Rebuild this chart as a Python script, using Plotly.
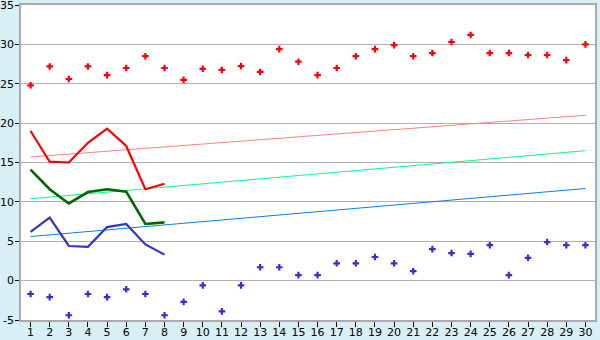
import plotly.graph_objects as go

days = list(range(1, 31))
high_pts = [24.8, 27.2, 25.6, 27.2, 26.1, 27.0, 28.5, 27.0, 25.5, 26.9,
            26.75, 27.25, 26.5, 29.4, 27.8, 26.1, 27.0, 28.5, 29.4, 29.9,
            28.5, 28.9, 30.3, 31.2, 28.9, 28.9, 28.65, 28.65, 28.0, 30.0]
low_pts = [-1.7, -2.1, -4.4, -1.7, -2.1, -1.1, -1.7, -4.4, -2.7, -0.6,
           -3.9, -0.6, 1.7, 1.7, 0.7, 0.7, 2.2, 2.2, 3.0, 2.2,
           1.2, 4.0, 3.5, 3.4, 4.5, 0.7, 2.9, 4.9, 4.5, 4.5]
obs_days = [1, 2, 3, 4, 5, 6, 7, 8]
obs_high = [19.0, 15.1, 15.0, 17.5, 19.3, 17.1, 11.6, 12.3]
obs_mean = [14.1, 11.6, 9.8, 11.25, 11.6, 11.3, 7.2, 7.4]
obs_low = [6.2, 8.0, 4.4, 4.3, 6.8, 7.2, 4.6, 3.3]
trend_days = [1, 30]
trend_high = [15.7, 21.0]
trend_mean = [10.4, 16.5]
trend_low = [5.6, 11.7]
y_ticks = [-5, 0, 5, 10, 15, 20, 25, 30, 35]
y_tick_labels = ["-5", "0", "5", "10", "15", "20", "25", "30", "35"]

fig = go.Figure()
fig.add_trace(go.Scatter(x=trend_days, y=trend_high, mode="lines",
                         line=dict(color="#ff8080", width=1)))
fig.add_trace(go.Scatter(x=trend_days, y=trend_mean, mode="lines",
                         line=dict(color="#00ff80", width=1)))
fig.add_trace(go.Scatter(x=trend_days, y=trend_low, mode="lines",
                         line=dict(color="#0080ff", width=1)))
fig.add_trace(go.Scatter(x=obs_days, y=obs_high, mode="lines",
                         line=dict(color="#ff0000", width=2.2)))
fig.add_trace(go.Scatter(x=obs_days, y=obs_mean, mode="lines",
                         line=dict(color="#006600", width=2.6)))
fig.add_trace(go.Scatter(x=obs_days, y=obs_low, mode="lines",
                         line=dict(color="#3333cc", width=2.2)))
fig.add_trace(go.Scatter(x=days, y=high_pts, mode="markers",
                         marker=dict(symbol="cross", size=5.5, color="#ff0000",
                                     line=dict(width=0))))
fig.add_trace(go.Scatter(x=days, y=low_pts, mode="markers",
                         marker=dict(symbol="cross", size=5.5, color="#3333cc",
                                     line=dict(width=0))))

fig.update_layout(
    width=600, height=340,
    margin=dict(l=21, r=5, t=5, b=20),
    paper_bgcolor="#d9eff6",
    plot_bgcolor="#ffffff",
    showlegend=False,
    font=dict(family="DejaVu Sans", size=11, color="#000000"),
    xaxis=dict(range=[0.5, 30.5], tickmode="array", tickvals=days,
               showgrid=False, zeroline=False, ticks="outside", ticklen=5,
               tickcolor="#000000", showline=True, linecolor="#aaaaaa",
               mirror=True, linewidth=1.5, tickfont=dict(size=11),
               automargin=False, ticklabeloverflow="allow",
               ticklabelstandoff=-4),
    yaxis=dict(range=[-5, 35], tickmode="array", tickvals=y_ticks,
               ticktext=y_tick_labels,
               showgrid=True, gridcolor="#b0b0b0", gridwidth=1,
               zeroline=False, ticks="outside", ticklen=4,
               tickcolor="#000000", showline=True, linecolor="#aaaaaa",
               mirror=True, linewidth=1.5, tickfont=dict(size=11),
               automargin=False, ticklabeloverflow="allow",
               ticklabelstandoff=-1),
)
fig.write_html("out.html")
